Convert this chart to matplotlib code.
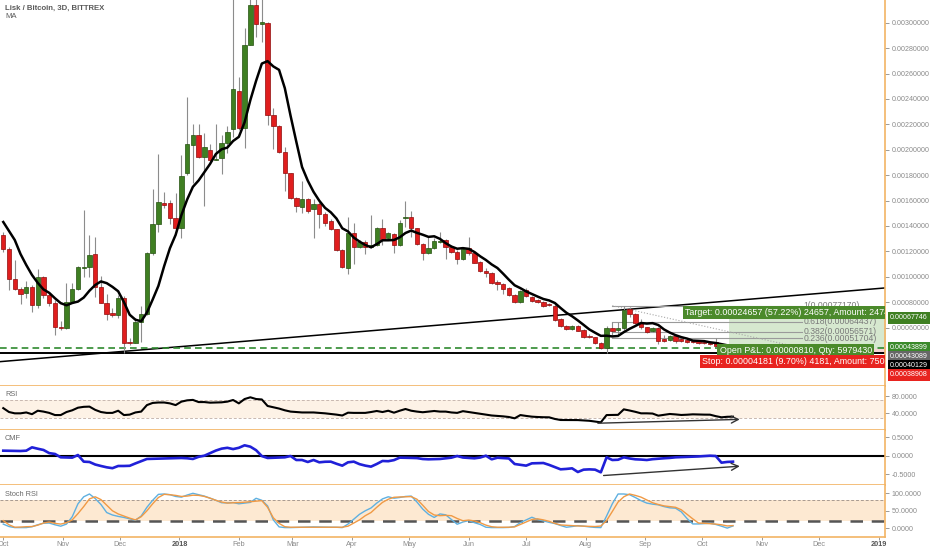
import matplotlib
matplotlib.use("Agg")
import matplotlib.pyplot as plt
import matplotlib.dates as mdates
import numpy as np
import pandas as pd

plt.rcParams["font.family"] = ["Liberation Sans", "DejaVu Sans"]

# candles, prices in satoshi (1e-8 BTC), one candle every 3 days from 2017-10-01
opens = [132840, 121810, 98190, 90320, 87170, 91890, 77720, 99760, 85590, 79290,
         60390, 59610, 80080, 90320, 106850, 107640, 117870, 91890, 79290, 71420,
         69840, 83230, 48580, 47800, 64330, 70630, 118660, 141500, 158030, 158030,
         146220, 138350, 181650, 203700, 211580, 194250, 199760, 191890, 193470, 205280,
         216300, 246220, 217090, 282440, 313940, 298980, 299760, 227320, 218660, 198190,
         181650, 161970, 154880, 161180, 153310, 157240, 149370, 143860, 137560, 121020,
         106850, 134410, 123390, 127320, 123390, 124960, 138350, 130470, 133620, 124960,
         146220, 147010, 138350, 125750, 118660, 122600, 127320, 128900, 123390, 119450,
         113940, 122600, 118660, 111580, 104490, 102910, 95830, 94250, 91100, 85590,
         80080, 89530, 84020, 81650, 80080, 78500, 76930, 66690, 61180, 58820,
         61180, 58030, 53310, 52520, 47800, 43860, 59610, 58030, 59610, 74570,
         70630, 63540, 60390, 57250, 59610, 50950, 50160, 53310, 50950, 50160,
         49370, 49370, 48580, 47800, 48580, 45430, 43070, 42280]
highs = [135200, 123390, 113150, 91890, 96610, 93470, 106060, 100550, 87170, 81650,
         65120, 95040, 95040, 108430, 152520, 132840, 131260, 100550, 86380, 75360,
         85590, 84800, 51730, 67480, 76930, 119450, 169060, 196610, 166690, 160390,
         165910, 195830, 241500, 220240, 220240, 213150, 204490, 220240, 211580, 218660,
         325750, 257240, 295830, 329690, 321810, 321810, 300550, 232840, 219450, 202130,
         181650, 162760, 175360, 161970, 161180, 158820, 150950, 145430, 137560, 121810,
         147010, 142280, 128900, 128900, 148580, 139130, 145430, 135200, 134410, 144650,
         159610, 151730, 138350, 126540, 131260, 130470, 135200, 129690, 124960, 121020,
         123390, 131260, 119450, 112360, 106850, 103700, 97400, 95040, 91890, 86380,
         89530, 91100, 84800, 82440, 80870, 79290, 78500, 67480, 61970, 61970,
         61970, 58820, 54880, 52520, 48580, 61180, 64330, 64330, 77170, 76140,
         71420, 66690, 60390, 60390, 60390, 54100, 54100, 54100, 51730, 50950,
         50160, 50160, 49370, 48580, 51730, 46220, 43860, 43860]
lows = [119450, 89530, 89530, 78500, 83230, 72210, 75360, 83230, 76930, 54100,
        58030, 58820, 80080, 89530, 99760, 99760, 84020, 79290, 65910, 68270,
        67480, 39920, 46220, 47800, 48580, 69840, 117090, 135200, 154100, 141500,
        136770, 130470, 180080, 173780, 193470, 155670, 190320, 191890, 180870, 197400,
        210000, 215510, 201340, 282440, 288740, 284800, 219450, 200550, 197400, 167480,
        161180, 150950, 150160, 150160, 130470, 138350, 139920, 136770, 120240, 106850,
        102130, 110000, 122600, 117870, 122600, 124170, 124960, 128900, 118660, 124170,
        139130, 131260, 124960, 113150, 117870, 121810, 126540, 113940, 118660, 110000,
        113150, 117090, 110790, 103700, 99760, 94250, 89530, 86380, 84800, 79290,
        79290, 84020, 80080, 79290, 76140, 76930, 65120, 60390, 58030, 58030,
        57250, 51730, 51730, 47000, 43070, 39920, 54100, 54100, 58030, 68270,
        62760, 58820, 55670, 56460, 47010, 48580, 49370, 47800, 48580, 47800,
        47800, 47010, 47010, 46220, 44650, 42280, 41500, 41500]
closes = [121810, 98190, 90320, 86380, 91890, 77720, 99760, 85590, 79290, 60390,
          59610, 80080, 90320, 107640, 107640, 117090, 91890, 79290, 70630, 69840,
          83230, 47800, 47800, 64330, 70630, 118660, 141500, 158820, 156460, 146220,
          138350, 179290, 204490, 211580, 194250, 202130, 191890, 192680, 205280, 213940,
          247800, 217090, 282440, 313940, 298980, 300550, 227320, 218660, 198190, 181650,
          161970, 155670, 161180, 151730, 157240, 149370, 142280, 137560, 121020, 107640,
          134410, 123390, 127320, 123390, 124960, 138350, 128900, 134410, 124960, 142280,
          147010, 138350, 125750, 118660, 122600, 128110, 128110, 123390, 119450, 113940,
          121810, 118660, 110790, 104490, 102910, 95040, 94250, 90320, 85590, 80080,
          88740, 84800, 80870, 80080, 76930, 77720, 65910, 61180, 58820, 61180,
          57250, 52520, 52520, 47800, 43860, 59610, 57250, 59610, 73780, 70630,
          63540, 60390, 56460, 59610, 49370, 49370, 53310, 49370, 49370, 48580,
          48580, 47800, 47800, 47010, 45430, 43070, 42280, 43089]
# MA(7) values for the first candles (history before the window)
ma_head = [143070, 135990, 128900, 117870, 109210, 101340]

rsi = [52, 43, 40, 40, 42, 38, 46, 44, 41, 36,
       36, 43, 47, 53, 55, 55.5, 48, 43, 41, 41,
       46, 36, 37, 42, 44, 59, 64, 65, 65, 63,
       59, 67, 70, 71, 66, 66, 64.6, 65, 65.4, 67,
       70.8, 63, 73, 77, 73, 72, 57, 54, 51, 47,
       44, 43, 42, 42, 42, 41, 40, 38.5, 37, 35,
       41.5, 41, 41, 41, 43, 45.4, 43, 46, 41.5, 46,
       50, 46, 44, 42.5, 44, 45.4, 44, 44, 42, 41,
       45, 43, 41, 39, 37, 35, 34, 33, 31.5, 28.5,
       36, 34, 32.3, 31.5, 31, 30.8, 27, 24.6, 24.6, 24.6,
       24.4, 23.5, 22.8, 21, 19.2, 36, 36.2, 36.5, 49.2, 46.5,
       43.5, 40, 40, 39.5, 34.6, 36.5, 38.5, 37.5, 36.2, 36.8,
       37.7, 37.3, 37, 36.9, 33.5, 30.8, 32, 32.3]
cmf = [0.137, 0.133, 0.13, 0.128, 0.137, 0.228, 0.19, 0.156, 0.07, 0.047,
       -0.044, -0.05, -0.053, 0.019, -0.162, -0.171, -0.24, -0.28, -0.316, -0.34,
       -0.28, -0.28, -0.275, -0.21, -0.15, -0.089, -0.085, -0.08, -0.076, -0.072,
       -0.068, -0.062, -0.07, -0.089, -0.03, 0.0, 0.07, 0.14, 0.192, 0.215,
       0.18, 0.215, 0.283, 0.246, 0.15, -0.01, -0.062, -0.055, -0.05, -0.044,
       -0.008, -0.117, -0.117, -0.171, -0.117, -0.18, -0.165, -0.162, -0.22, -0.271,
       -0.18, -0.162, -0.23, -0.27, -0.298, -0.226, -0.144, -0.15, -0.12, -0.053,
       -0.055, -0.06, -0.065, -0.09, -0.098, -0.093, -0.089, -0.07, -0.053, -0.008,
       -0.05, -0.06, -0.071, -0.05, 0.0, -0.098, -0.055, -0.065, -0.075, -0.226,
       -0.25, -0.271, -0.208, -0.205, -0.199, -0.25, -0.31, -0.371, -0.36, -0.344,
       -0.444, -0.38, -0.372, -0.38, -0.453, -0.044, -0.117, -0.11, -0.044, -0.075,
       -0.098, -0.105, -0.117, -0.095, -0.082, -0.07, -0.06, -0.044, -0.038, -0.032,
       -0.026, -0.02, -0.01, 0.0, -0.008, -0.19, -0.17, -0.162]
stoch_k = [12, 5, 2, 2, 2, 4.5, 10, 14.5, 15, 10,
           6, 12, 33, 70, 90, 98, 85, 68, 45, 38,
           34, 31, 27, 23, 35, 60, 80, 97, 98, 96,
           91, 89, 95, 100, 96, 92, 86, 80, 73, 72.5,
           73.4, 70, 72, 74, 85.7, 80, 64, 24, 4, 2,
           2, 2.5, 3, 3.5, 3.9, 3.5, 3, 3, 2.9, 2,
           12, 26, 40, 50, 58, 72, 84, 90, 86, 88,
           91, 92, 75, 55, 40, 31, 41, 38.5, 25, 11.5,
           18, 21.9, 16, 11, 3, 2, 2, 2, 2.5, 5,
           16.2, 24, 31.5, 25, 21, 17, 13.5, 8, 3, 5,
           7.5, 6, 4, 2.5, 2, 35, 70, 98, 98, 96,
           88, 79, 72, 69, 67, 62, 58.5, 57.5, 47, 28,
           12.4, 12.4, 13.5, 14.3, 11, 6, 0.5, 6.7]
stoch_d = [22, 10, 3, 3.5, 4.5, 5, 9, 15, 18, 14,
           12, 16, 24, 42, 62, 84, 90, 82, 66, 50,
           41, 35, 29, 24, 33, 50, 70, 88, 97, 96,
           94, 91, 92, 94.5, 94, 91, 86, 80, 75, 72,
           73, 73.4, 74.5, 76, 77.5, 79, 60, 30, 14, 4.5,
           3, 3, 3, 3, 3, 3, 3, 3, 3, 3,
           6, 15, 24, 36, 45, 60, 74, 83, 88.6, 89.5,
           90, 90.5, 83, 66, 48, 38, 36, 37, 36, 28,
           21.5, 23.5, 21, 16, 9, 4.5, 3, 3, 3, 4,
           11, 18, 25, 27, 24, 20, 14, 9.5, 8.5, 7.5,
           6.7, 6, 5.5, 5, 6.5, 22, 48, 75, 90, 98,
           94, 89, 81, 73, 68, 64, 62, 60, 53, 40,
           27, 15, 14.3, 13, 12, 10, 6.7, 7.7]

# drawings
entry = 0.00043089
target = 0.00067746
stop = 0.00038908
last_price = 0.00043899
support = 0.00040129
trend_pts = [("2017-09-29", 0.0003307), ("2019-01-04", 0.000911)]
fib_high, fib_low = 0.00077170, 0.00043838
fib_levels = [1, 0.618, 0.382, 0.236]
fib_span = ("2018-08-15", "2018-11-22")
rsi_arrow = [("2018-08-06", 17.0), ("2018-10-22", 26.2)]
cmf_arrow = [("2018-08-09", -0.545), ("2018-10-22", -0.281)]

# ---- build ----
dates = pd.date_range("2017-10-01", periods=len(opens), freq="3D")
x = mdates.date2num(dates)
o = np.array(opens) / 1e8
h = np.array(highs) / 1e8
l = np.array(lows) / 1e8
c = np.array(closes) / 1e8
ma = pd.Series(c).rolling(7).mean().values
ma[:6] = np.array(ma_head) / 1e8

def d(s):
    return mdates.date2num(pd.Timestamp(s))

ORANGE = "#f2b465"
GREEN = "#3f7f22"
RED = "#e01e1e"
TXT = "#8a8a8a"
FS = 5.1

W, H = 932, 550
fig = plt.figure(figsize=(W / 100, H / 100), dpi=100)
right = 885 / W

def panel(top, bottom):
    return fig.add_axes([0, 1 - bottom / H, right, (bottom - top) / H])

ax = panel(0, 386)
ax_rsi = panel(386, 430)
ax_cmf = panel(430, 485)
ax_st = panel(485, 537)
axes = [ax, ax_rsi, ax_cmf, ax_st]

xmin, xmax = d("2017-09-29 07:00"), d("2019-01-04 09:00")
for a in axes:
    a.set_xlim(xmin, xmax)
    for s in ["left", "top"]:
        a.spines[s].set_visible(False)
    for s in ["right", "bottom"]:
        a.spines[s].set_color(ORANGE)
        a.spines[s].set_linewidth(1.2)
    a.yaxis.tick_right()
    a.tick_params(axis="y", colors=TXT, labelsize=FS, length=3, width=0.6, pad=2)
    a.tick_params(axis="x", bottom=False, labelbottom=False)
    a.set_facecolor("white")

# ---- main price panel ----
ax.set_ylim(0.00013938, 0.00317874)
up = c >= o
ax.vlines(x, l, h, color="#8c8c8c", lw=0.8, zorder=3)
body_lo = np.minimum(o, c)
body_h = np.maximum(np.abs(c - o), 0.0000055)
ax.bar(x[up], body_h[up], bottom=body_lo[up], width=2.3, color=GREEN,
       edgecolor="#25520f", lw=0.5, zorder=4)
ax.bar(x[~up], body_h[~up], bottom=body_lo[~up], width=2.3, color=RED,
       edgecolor="#8e0c0c", lw=0.5, zorder=4)
ax.plot(x, ma, color="black", lw=1.8, zorder=5)

tx = [d(p[0]) for p in trend_pts]
ty = [p[1] for p in trend_pts]
ax.plot(tx, ty, color="black", lw=1.1, zorder=2)
ax.axhline(last_price, color="#2f8a2f", lw=1.2, ls=(0, (4, 2.5)), zorder=2)
ax.axhline(support, color="black", lw=1.4, zorder=2)

# fibonacci retracement
f0, f1 = d(fib_span[0]), d(fib_span[1])
for lv in fib_levels:
    p = fib_low + lv * (fib_high - fib_low)
    ax.plot([f0, f1], [p, p], color="#9a9a9a", lw=0.8, zorder=2)
    ax.text(f1 + 1, p, f"{lv:g}({p:.8f})", fontsize=6.2, color="#7a7a7a",
            va="center", ha="left", zorder=6)
ax.plot([f0, f1], [fib_high, fib_low], color="#a8a8a8", lw=0.8, ls=":", zorder=2)

# long position tool
p0 = d("2018-10-15")
ax.fill_between([p0, xmax + 30], entry, target, color="#d6e8cf", zorder=1, lw=0)
ax.fill_between([p0, xmax + 30], stop, entry, color="#f6d4d4", zorder=1, lw=0)
box = dict(boxstyle="square,pad=0.25", ec="none")
ax.text(d("2018-09-22"), 0.000716,
        "Target: 0.00024657 (57.22%) 24657, Amount: 2474.2",
        fontsize=6.4, color="white", va="center", ha="left", zorder=8,
        bbox=dict(box, fc="#4b8a2b"), clip_on=True)
ax.text(d("2018-10-10"), 0.000419, "Open P&L: 0.00000810, Qty: 5979430",
        fontsize=6.4, color="white", va="center", ha="left", zorder=8,
        bbox=dict(box, fc="#4b8a2b"), clip_on=True)
ax.text(d("2018-10-01"), 0.0003323,
        "Stop: 0.00004181 (9.70%) 4181, Amount: 750.0",
        fontsize=6.4, color="white", va="center", ha="left", zorder=8,
        bbox=dict(box, fc="#e8231f"), clip_on=True)

ax.set_yticks(np.round(np.arange(0.0006, 0.00301, 0.0002), 5))
ax.yaxis.set_major_formatter(plt.FuncFormatter(lambda v, _: f"{v:.8f}"))

# price labels on the scale, pushed apart like the platform does
ylo, yhi = ax.get_ylim()
ax_px = 386
labels = [(target, GREEN), (last_price, "#3a8a2a"), (entry, "#676767"),
          (support, "#000000"), (stop, "#e8231f")]
prev = None
for price, col in labels:
    yf = (price - ylo) / (yhi - ylo)
    if prev is not None:
        yf = min(yf, prev - 9.0 / ax_px)
    prev = yf
    ax.text(1.0 + 5 / 885, yf, f"{price:.8f}", transform=ax.transAxes,
            fontsize=FS, color="white", va="center", ha="left", clip_on=False,
            bbox=dict(boxstyle="square,pad=0.35", fc=col, ec="none"), zorder=9)

ax.text(5 / 885, 1 - 8 / 386, "Lisk / Bitcoin, 3D, BITTREX", transform=ax.transAxes,
        fontsize=5.6, fontweight="bold", color="#5a5a5a", va="center")
ax.text(5 / 885, 1 - 17 / 386, "MA", transform=ax.transAxes,
        fontsize=5.6, color="#5a5a5a", va="center")

# ---- RSI ----
ax_rsi.set_ylim(1.5, 103.1)
ax_rsi.axhspan(30, 70, color="#fdf2e6", lw=0, zorder=0)
for lv in (30, 70):
    ax_rsi.axhline(lv, color="#c8b8b0", lw=0.7, ls=(0, (3, 2)), zorder=1)
ax_rsi.plot(x, rsi, color="black", lw=1.5, zorder=3)
ax_rsi.annotate("", xy=(d(rsi_arrow[1][0]), rsi_arrow[1][1]),
                xytext=(d(rsi_arrow[0][0]), rsi_arrow[0][1]),
                arrowprops=dict(arrowstyle="->,head_length=0.5,head_width=0.25",
                                color="#333333", lw=1.0))
ax_rsi.set_yticks([40, 80])
ax_rsi.yaxis.set_major_formatter(plt.FuncFormatter(lambda v, _: f"{v:.4f}"))
ax_rsi.text(5 / 885, 1 - 9 / 44, "RSI", transform=ax_rsi.transAxes,
            fontsize=5.3, color="#6a6a6a", va="center")

# ---- CMF ----
ax_cmf.set_ylim(-0.798, 0.700)
ax_cmf.axhline(0, color="black", lw=1.5, zorder=2)
ax_cmf.plot(x, cmf, color="#2020d8", lw=1.9, zorder=3)
ax_cmf.annotate("", xy=(d(cmf_arrow[1][0]), cmf_arrow[1][1]),
                xytext=(d(cmf_arrow[0][0]), cmf_arrow[0][1]),
                arrowprops=dict(arrowstyle="->,head_length=0.5,head_width=0.25",
                                color="#333333", lw=1.0))
ax_cmf.set_yticks([-0.5, 0, 0.5])
ax_cmf.yaxis.set_major_formatter(plt.FuncFormatter(lambda v, _: f"{v:.4f}"))
ax_cmf.text(5 / 885, 1 - 9 / 55, "CMF", transform=ax_cmf.transAxes,
            fontsize=5.3, color="#6a6a6a", va="center")

# ---- Stoch RSI ----
ax_st.set_ylim(-24.9, 123.7)
ax_st.axhspan(20, 80, color="#fde9d2", lw=0, zorder=0)
ax_st.axhline(80, color="#a89a90", lw=0.7, ls=(0, (3, 2)), zorder=1)
ax_st.axhline(20, color="#555555", lw=1.8, ls=(0, (5, 3.5)), zorder=1)
ax_st.plot(x, stoch_k, color="#5fb0e0", lw=1.0, zorder=3)
ax_st.plot(x, stoch_d, color="#f09a45", lw=1.0, zorder=3)
ax_st.set_yticks([0, 50, 100])
ax_st.yaxis.set_major_formatter(plt.FuncFormatter(lambda v, _: f"{v:.4f}"))
ax_st.text(5 / 885, 1 - 9 / 52, "Stoch RSI", transform=ax_st.transAxes,
           fontsize=5.3, color="#6a6a6a", va="center")

# month labels
months = pd.date_range("2017-10-01", "2019-01-01", freq="MS")
ax_st.set_xticks(mdates.date2num(months))
ax_st.set_xticklabels([str(m.year) if m.month == 1 else m.strftime("%b") for m in months])
ax_st.tick_params(axis="x", bottom=True, labelbottom=True, colors=TXT,
                  labelsize=5.3, length=2, width=0.6, pad=1)
for t, m in zip(ax_st.get_xticklabels(), months):
    if m.month == 1:
        t.set_fontweight("bold")
        t.set_color("#555555")

fig.savefig("out.png", dpi=100, facecolor="white")
